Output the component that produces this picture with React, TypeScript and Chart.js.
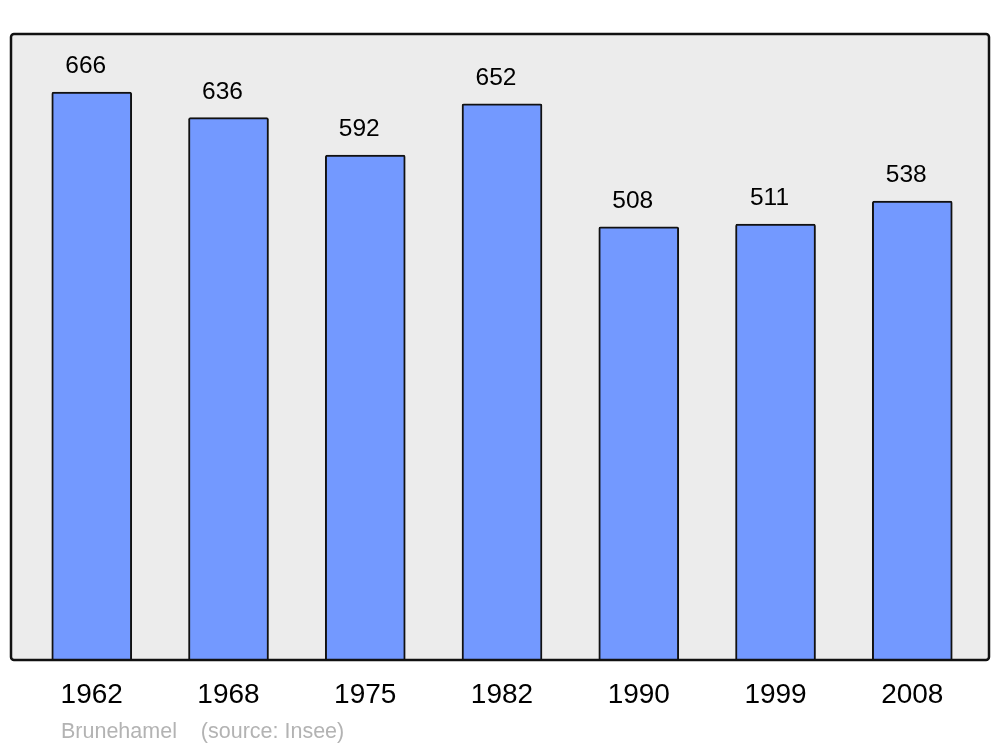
import React, { useEffect, useRef } from "react";
import { Chart, registerables } from "chart.js";

Chart.register(...registerables);

const years = ["1962", "1968", "1975", "1982", "1990", "1999", "2008"];
const population = [666, 636, 592, 652, 508, 511, 538];
const footerText = "Brunehamel    (source: Insee)";

const FONT = "'Liberation Sans', Arial, sans-serif";

function roundRect(ctx: CanvasRenderingContext2D, x: number, y: number, w: number, h: number, r: number) {
  ctx.beginPath();
  ctx.moveTo(x + r, y);
  ctx.lineTo(x + w - r, y);
  ctx.arcTo(x + w, y, x + w, y + r, r);
  ctx.lineTo(x + w, y + h - r);
  ctx.arcTo(x + w, y + h, x + w - r, y + h, r);
  ctx.lineTo(x + r, y + h);
  ctx.arcTo(x, y + h, x, y + h - r, r);
  ctx.lineTo(x, y + r);
  ctx.arcTo(x, y, x + r, y, r);
  ctx.closePath();
}

const framePlugin = {
  id: "frame",
  beforeDraw(chart: any) {
    const { ctx, chartArea: a } = chart;
    ctx.save();
    ctx.fillStyle = "#ffffff";
    ctx.fillRect(0, 0, chart.width, chart.height);
    roundRect(ctx, a.left, a.top, a.right - a.left, a.bottom - a.top, 3);
    ctx.fillStyle = "#ececec";
    ctx.fill();
    ctx.restore();
  },
  afterDatasetsDraw(chart: any) {
    const { ctx, chartArea: a } = chart;
    ctx.save();
    roundRect(ctx, a.left, a.top, a.right - a.left, a.bottom - a.top, 3);
    ctx.lineWidth = 2.5;
    ctx.strokeStyle = "#111111";
    ctx.stroke();
    // value labels
    const meta = chart.getDatasetMeta(0);
    ctx.fillStyle = "#000000";
    ctx.font = `24.5px ${FONT}`;
    ctx.textAlign = "center";
    ctx.textBaseline = "alphabetic";
    meta.data.forEach((bar: any, i: number) => {
      ctx.fillText(String(population[i]), bar.x - 6, bar.y - 19);
    });
    // footer
    ctx.fillStyle = "#b3b3b3";
    ctx.font = `21.5px ${FONT}`;
    ctx.textAlign = "left";
    ctx.fillText(footerText, a.left + 50, 737.5);
    ctx.restore();
  },
};

export default function App() {
  const ref = useRef<HTMLCanvasElement>(null);
  useEffect(() => {
    document.body.style.margin = "0";
    const chart = new Chart(ref.current!, {
      type: "bar",
      data: {
        datasets: [
          {
            data: population.map((v, i) => ({ x: i, y: v })),
            backgroundColor: "#7399ff",
            borderColor: "#111111",
            borderWidth: 2,
            borderRadius: 2,
            barThickness: 80,
          },
        ],
      },
      options: {
        responsive: false,
        animation: false,
        layout: { padding: { left: 11, right: 11, top: 34, bottom: 37 } },
        plugins: { legend: { display: false }, tooltip: { enabled: false } },
        scales: {
          x: {
            type: "linear",
            offset: false,
            min: -0.5905,
            max: 6.561,
            grid: { display: false, drawTicks: false },
            border: { display: false },
            afterBuildTicks: (scale: any) => {
              scale.ticks = years.map((_, i) => ({ value: i }));
            },
            afterFit: (scale: any) => {
              scale.height = 50;
            },
            ticks: {
              padding: 18,
              color: "#000000",
              font: { family: FONT, size: 28 },
              callback: (v: any) => years[v] ?? "",
              maxRotation: 0,
              autoSkip: false,
            },
          },
          y: { display: false, min: 0, max: 734 },
        },
      },
      plugins: [framePlugin],
    } as any);
    return () => chart.destroy();
  }, []);
  return <canvas ref={ref} width={1000} height={747} style={{ display: "block" }} />;
}
